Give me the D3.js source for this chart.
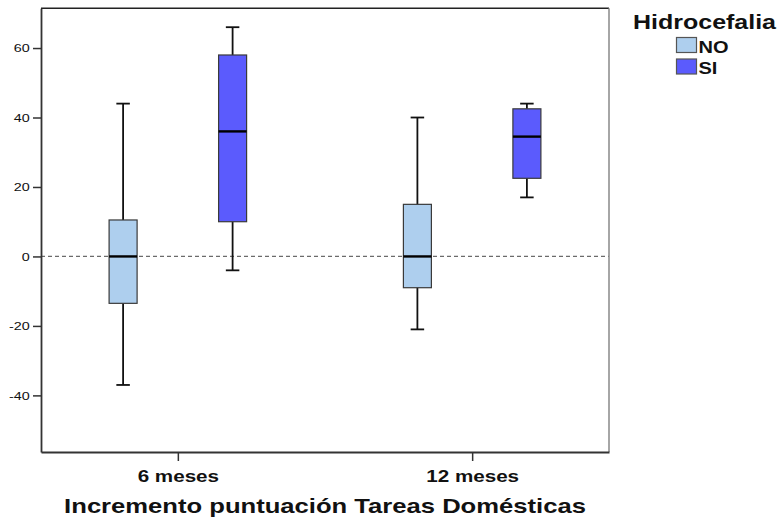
<!DOCTYPE html>
<html>
<head>
<meta charset="utf-8">
<script src="https://cdn.jsdelivr.net/npm/d3@7/dist/d3.min.js"></script>
<style>
  html, body { margin: 0; padding: 0; background: #fff; }
  svg { display: block; font-family: "Liberation Sans", Arial, sans-serif; }
</style>
</head>
<body>
<svg id="chart" width="778" height="520"></svg>
<script>
// Periods on the x axis and hydrocephalus groups
const periods = ["6 meses", "12 meses"];
const groups = ["NO", "SI"];
const groupColors = ["#aecfee", "#5b5bfd"];

// Box statistics per period (whisker low, Q1, median, Q3, whisker high)
const lowNO    = [-37, -21];
const q1NO     = [-13.5, -9];
const medNO    = [0, 0];
const q3NO     = [10.5, 15];
const highNO   = [44, 40];

const lowSI    = [-4, 17];
const q1SI     = [10, 22.5];
const medSI    = [36, 34.5];
const q3SI     = [58, 42.5];
const highSI   = [66, 44];

const yTicks = [-40, -20, 0, 20, 40, 60];
const xTitle = "Incremento puntuación Tareas Domésticas";
const legendTitle = "Hidrocefalia";

const boxes = [];
periods.forEach((p, i) => {
  boxes.push({period: p, group: "NO", low: lowNO[i], q1: q1NO[i], med: medNO[i], q3: q3NO[i], high: highNO[i]});
  boxes.push({period: p, group: "SI", low: lowSI[i], q1: q1SI[i], med: medSI[i], q3: q3SI[i], high: highSI[i]});
});

const svg = d3.select("#chart");
const plot = {left: 41, top: 8.3, right: 609, bottom: 452};
const sx = 1.25; // horizontal stretch of the lettering

const x = d3.scalePoint().domain(periods).range([plot.left, plot.right]).padding(0.465);
const sub = d3.scalePoint().domain(groups).range([-54.75, 54.75]);
const color = d3.scaleOrdinal().domain(groups).range(groupColors);
const y = d3.scaleLinear().domain([-56.3, 71.44]).range([plot.bottom, plot.top]);

const boxW = 28, capW = 13.5;

// zero reference line
svg.append("line")
  .attr("x1", plot.left).attr("x2", plot.right)
  .attr("y1", y(0)).attr("y2", y(0))
  .attr("stroke", "#6b6b6b").attr("stroke-width", 1.2)
  .attr("stroke-dasharray", "4,3");

// boxes
const g = svg.append("g").selectAll("g.box").data(boxes).join("g")
  .attr("transform", d => `translate(${x(d.period) + sub(d.group)},0)`);

g.append("line").attr("x1", 0).attr("x2", 0)
  .attr("y1", d => y(d.high)).attr("y2", d => y(d.q3))
  .attr("stroke", "#111").attr("stroke-width", 1.8);
g.append("line").attr("x1", 0).attr("x2", 0)
  .attr("y1", d => y(d.q1)).attr("y2", d => y(d.low))
  .attr("stroke", "#111").attr("stroke-width", 1.8);
g.append("line").attr("x1", -capW / 2).attr("x2", capW / 2)
  .attr("y1", d => y(d.high)).attr("y2", d => y(d.high))
  .attr("stroke", "#111").attr("stroke-width", 1.8);
g.append("line").attr("x1", -capW / 2).attr("x2", capW / 2)
  .attr("y1", d => y(d.low)).attr("y2", d => y(d.low))
  .attr("stroke", "#111").attr("stroke-width", 1.8);
g.append("rect")
  .attr("x", -boxW / 2).attr("width", boxW)
  .attr("y", d => y(d.q3)).attr("height", d => y(d.q1) - y(d.q3))
  .attr("fill", d => color(d.group))
  .attr("stroke", "#3a3a3a").attr("stroke-width", 1.2);
g.append("line").attr("x1", -boxW / 2).attr("x2", boxW / 2)
  .attr("y1", d => y(d.med)).attr("y2", d => y(d.med))
  .attr("stroke", "#000").attr("stroke-width", 2.4);

// frame
svg.append("line").attr("x1", plot.left).attr("x2", plot.right)
  .attr("y1", plot.top).attr("y2", plot.top).attr("stroke", "#222").attr("stroke-width", 1.5);
svg.append("line").attr("x1", plot.right).attr("x2", plot.right)
  .attr("y1", plot.top).attr("y2", plot.bottom).attr("stroke", "#888").attr("stroke-width", 1.5);

// y axis (plain hyphen for negatives)
const yAxis = svg.append("g").attr("transform", `translate(${plot.left},0)`)
  .call(d3.axisLeft(y).tickValues(yTicks).tickFormat(d => String(d))
    .tickSize(8).tickPadding(1).tickSizeOuter(0));
yAxis.select(".domain").attr("stroke", "#333").attr("stroke-width", 1.8);
yAxis.selectAll(".tick line").attr("stroke", "#333").attr("stroke-width", 1.5);
yAxis.selectAll(".tick text")
  .attr("font-size", 11.5).attr("fill", "#111")
  .attr("font-family", "'Liberation Sans', Arial, sans-serif")
  .attr("transform", `scale(${sx},1)`);

// x axis
const xAxis = svg.append("g").attr("transform", `translate(0,${plot.bottom})`)
  .call(d3.axisBottom(x).tickSize(9).tickSizeOuter(0));
xAxis.select(".domain").attr("stroke", "#333").attr("stroke-width", 1.8);
xAxis.selectAll(".tick line").attr("stroke", "#333").attr("stroke-width", 1.5);
xAxis.selectAll(".tick text")
  .attr("y", 29.7).attr("dy", 0)
  .attr("font-size", 16.5).attr("font-weight", "bold").attr("fill", "#111")
  .attr("font-family", "'Liberation Sans', Arial, sans-serif")
  .attr("transform", `scale(${sx},1)`)
  .attr("x", 0);

// stretched text helper
function label(px, py, txt, size, anchor) {
  svg.append("g").attr("transform", `translate(${px},${py})`)
    .append("text")
    .attr("transform", `scale(${sx},1)`)
    .attr("text-anchor", anchor)
    .attr("font-size", size).attr("font-weight", "bold").attr("fill", "#111")
    .text(txt);
}

label((plot.left + plot.right) / 2, 513.3, xTitle, 20.5, "middle");

// legend
label(633, 29.3, legendTitle, 20, "start");
groups.forEach((gr, i) => {
  const ly = 37.5 + i * 21.5;
  svg.append("rect").attr("x", 676.5).attr("y", ly).attr("width", 20).attr("height", 15)
    .attr("fill", color(gr)).attr("stroke", "#555").attr("stroke-width", 1.2);
  label(698.5, ly + 15.2, gr, 16, "start");
});
</script>
</body>
</html>
